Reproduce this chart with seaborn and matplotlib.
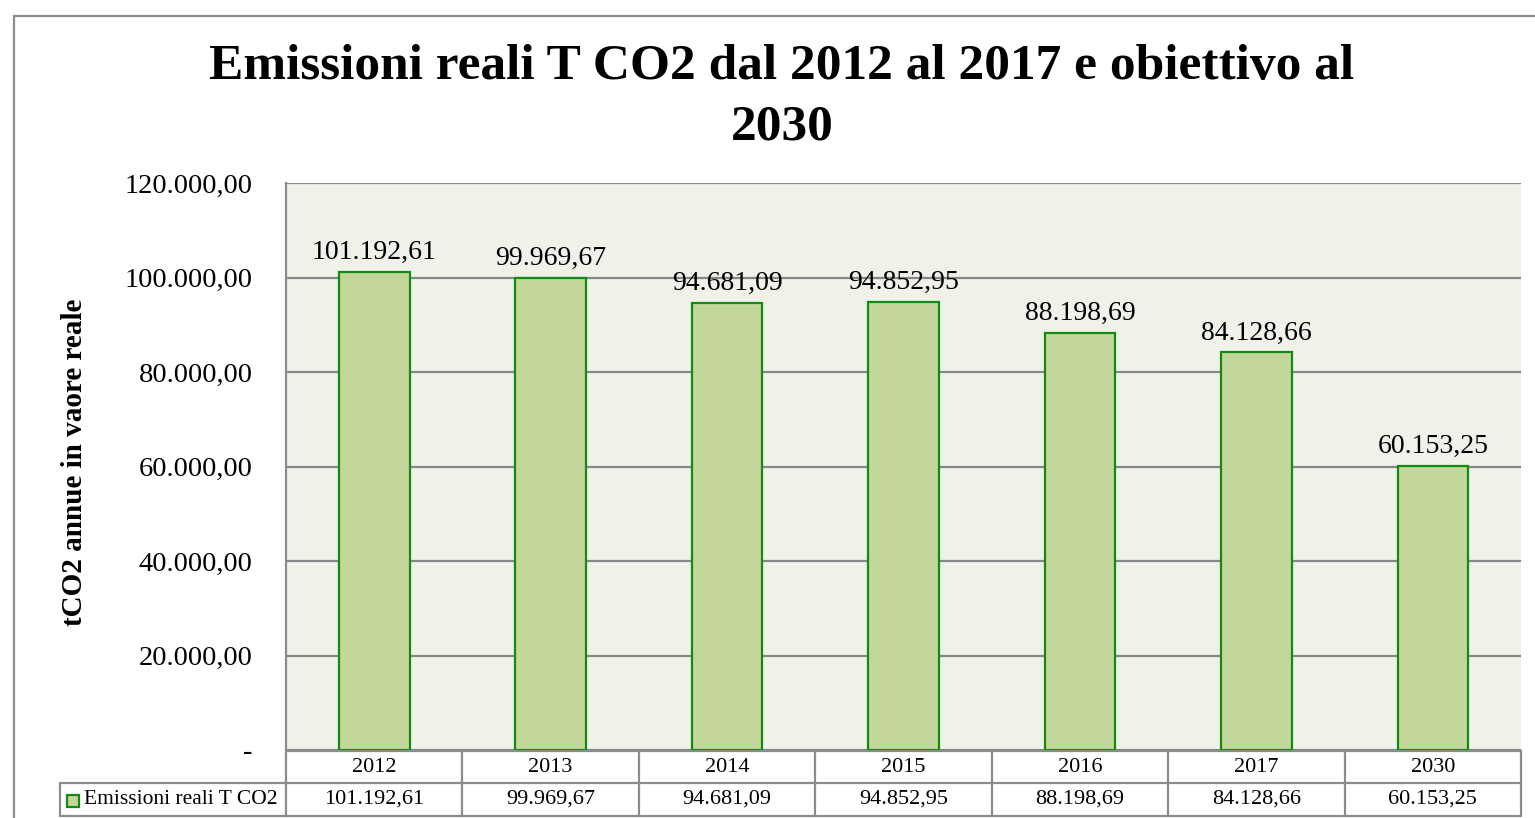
import matplotlib
matplotlib.use("Agg")
import matplotlib.pyplot as plt
import matplotlib.transforms as mtransforms
from matplotlib.lines import Line2D
from matplotlib.patches import Rectangle
import seaborn as sns
import pandas as pd

# --- data -------------------------------------------------------------
years = ["2012", "2013", "2014", "2015", "2016", "2017", "2030"]
emissions = [101192.61, 99969.67, 94681.09, 94852.95, 88198.69, 84128.66, 60153.25]
series_name = "Emissioni reali T CO2"
y_ticks = [0, 20000, 40000, 60000, 80000, 100000, 120000]
title_text = "Emissioni reali T CO2 dal 2012 al 2017 e obiettivo al\n2030"
y_label = "tCO2 annue in vaore reale"

df = pd.DataFrame({"anno": years, "valore": emissions})

# --- style ------------------------------------------------------------
sns.set_theme(style="white")
plt.rcParams["font.family"] = ["Liberation Serif", "DejaVu Serif"]
plt.rcParams["text.color"] = "black"
plt.rcParams["ytick.color"] = "black"

BAR_FILL = "#C4D79B"
BAR_EDGE = "#138A13"
PLOT_BG = "#EFF2E9"
GRID = "#878787"
BORDER = "#8C8C8C"

W, H = 1535, 818


def fx(px):
    return px / W


def fy(py):
    return 1 - py / H


def it_number(v):
    """Italian number format: 101.192,61 ; zero shown as a dash."""
    if v == 0:
        return "-"
    s = f"{v:,.2f}"
    return s.replace(",", "#").replace(".", ",").replace("#", ".")


fig = plt.figure(figsize=(W / 100, H / 100), dpi=100)
fig.patch.set_facecolor("white")

# outer chart frame
fig.add_artist(Rectangle((fx(14), -0.2), 1.2, fy(16) + 0.2, transform=fig.transFigure,
                         fill=False, edgecolor=BORDER, linewidth=1.6))

ax = fig.add_axes([fx(286), fy(750), fx(1521) - fx(286), fy(183) - fy(750)])
ax.set_facecolor(PLOT_BG)

sns.barplot(data=df, x="anno", y="valore", ax=ax, color=BAR_FILL, saturation=1,
            edgecolor=BAR_EDGE, linewidth=1.6, width=0.4, zorder=3)

ax.set_xlim(-0.5, len(years) - 0.5)
ax.set_ylim(0, 120000)
ax.set_yticks(y_ticks)
ax.set_yticklabels([it_number(t) for t in y_ticks], fontsize=20.5)
ax.tick_params(axis="y", length=0, pad=24, labelcolor="black")
ax.tick_params(axis="x", bottom=False, labelbottom=False)
ax.set_xlabel("")
ax.set_ylabel("")
ax.yaxis.grid(True, color=GRID, linewidth=1.6, zorder=0)
ax.set_axisbelow(True)
for side in ("top", "right", "bottom"):
    ax.spines[side].set_visible(False)
ax.spines["left"].set_color(BORDER)
ax.spines["left"].set_linewidth(1.6)

# value labels above the bars
for i, v in enumerate(emissions):
    ax.annotate(it_number(v), (i, v), xytext=(0, 5), textcoords="offset points",
                ha="center", va="bottom", fontsize=20, color="black")

# title and axis label
fig.text(fx(782), fy(44), title_text, ha="center", va="top", fontsize=37,
         fontweight="bold", linespacing=1.4, color="black")
fig.text(fx(75), fy(462), y_label, rotation=90, ha="center", va="center",
         fontsize=21, fontweight="bold", color="black")

# --- data table under the plot --------------------------------------
tr = mtransforms.blended_transform_factory(ax.transData, fig.transFigure)
trf = fig.transFigure
row_top, row_mid, row_bot = 751, 783, 816
n = len(years)


def hline(x0, x1, y, transform):
    fig.add_artist(Line2D([x0, x1], [fy(y), fy(y)], transform=transform,
                          color=BORDER, linewidth=1.6))


def vline(x, y0, y1, transform):
    fig.add_artist(Line2D([x, x], [fy(y0), fy(y1)], transform=transform,
                          color=BORDER, linewidth=1.6))


hline(-0.5, n - 0.5, row_top, tr)
hline(-0.5, n - 0.5, row_mid, tr)
hline(-0.5, n - 0.5, row_bot, tr)
for k in range(n + 1):
    vline(k - 0.5, row_top, row_bot, tr)
hline(fx(60), fx(286), row_mid, trf)
hline(fx(60), fx(286), row_bot, trf)
vline(fx(60), row_mid, row_bot, trf)

for i, (yr, v) in enumerate(zip(years, emissions)):
    fig.text(i, fy((row_top + row_mid) / 2), yr, transform=tr, ha="center",
             va="center", fontsize=16)
    fig.text(i, fy((row_mid + row_bot) / 2), it_number(v), transform=tr,
             ha="center", va="center", fontsize=16)

# legend key in the row header
fig.add_artist(Rectangle((fx(67), fy(807)), fx(12), 12 / H, transform=trf,
                         facecolor=BAR_FILL, edgecolor=BAR_EDGE, linewidth=1.6))
fig.text(fx(84), fy((row_mid + row_bot) / 2), series_name, ha="left", va="center",
         fontsize=15.5)

fig.savefig("out.png", dpi=100)
